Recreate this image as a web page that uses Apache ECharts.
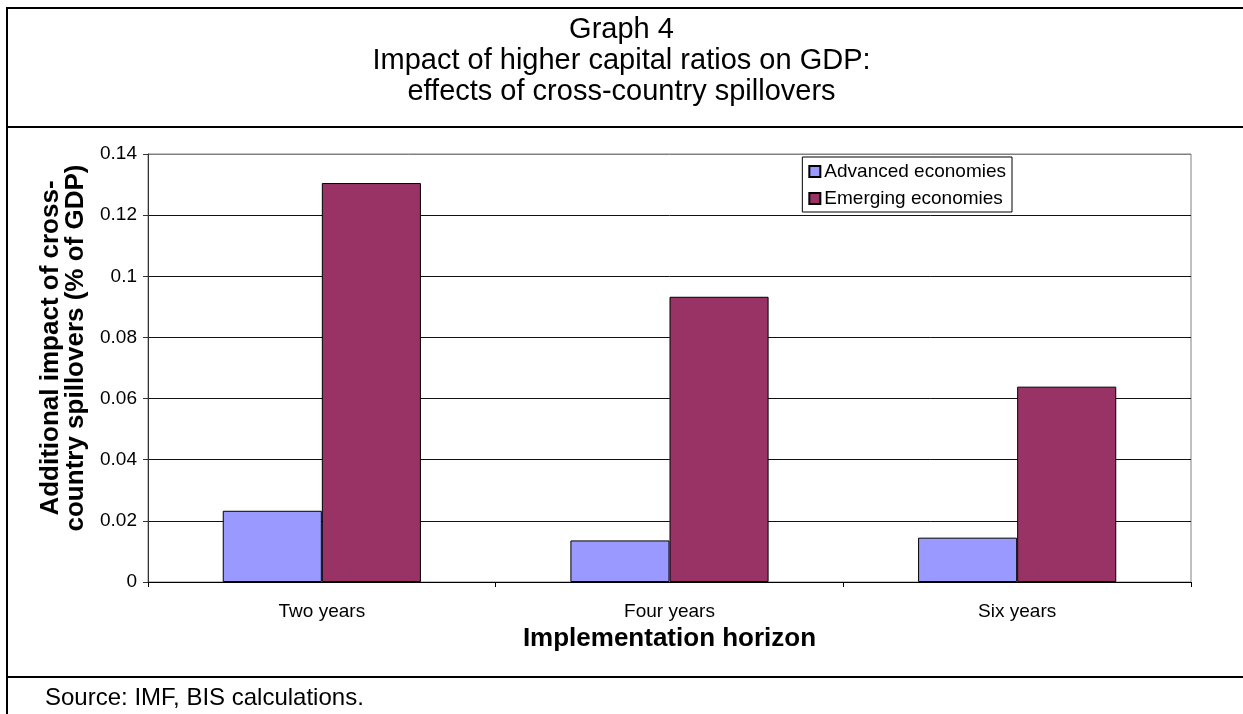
<!DOCTYPE html>
<html>
<head>
<meta charset="utf-8">
<title>Graph 4</title>
<script src="https://cdn.jsdelivr.net/npm/echarts@6/dist/echarts.min.js"></script>
<style>
  html, body { margin: 0; padding: 0; background: #fff; }
  #chart { width: 1243px; height: 714px; }
</style>
</head>
<body>
<div id="chart"></div>
<script>
// Implementation horizons on the x axis
var categories = ['Two years', 'Four years', 'Six years'];
// Additional GDP impact of cross-country spillovers, % of GDP
var advancedEconomies = [0.0233, 0.0136, 0.0145];
var emergingEconomies = [0.1305, 0.0933, 0.0639];
var seriesNames = ['Advanced economies', 'Emerging economies'];

var titleText = 'Graph 4\nImpact of higher capital ratios on GDP:\neffects of cross-country spillovers';
var sourceText = 'Source: IMF, BIS calculations.';
var xAxisName = 'Implementation horizon';
var yAxisName = 'Additional impact of cross-\ncountry spillovers (% of GDP)';

var FONT = '"Liberation Sans", Arial, Helvetica, sans-serif';

var chart = echarts.init(document.getElementById('chart'), null, { renderer: 'canvas' });

// grid lines: black inside, grey along the top edge of the plot
var splitColors = ['#111', '#111', '#111', '#111', '#111', '#111', '#111', '#808080'];

var option = {
  backgroundColor: '#fff',
  animation: false,
  textStyle: { fontFamily: FONT, color: '#000' },
  title: [
    {
      text: titleText,
      left: 'center',
      top: 14,
      padding: 0,
      textStyle: { fontFamily: FONT, fontSize: 29, fontWeight: 'normal', color: '#000', lineHeight: 31, align: 'center' }
    },
    {
      text: sourceText,
      left: 45,
      top: 686,
      padding: 0,
      textStyle: { fontFamily: FONT, fontSize: 24, fontWeight: 'normal', color: '#000', lineHeight: 24 }
    }
  ],
  legend: {
    data: seriesNames,
    orient: 'vertical',
    right: 231,
    top: 157,
    padding: [5, 6, 4, 6],
    itemGap: 8,
    itemWidth: 11,
    itemHeight: 11,
    icon: 'rect',
    borderColor: '#000',
    borderWidth: 1,
    backgroundColor: '#fff',
    textStyle: { fontFamily: FONT, fontSize: 19, color: '#000', padding: [0, 0, 0, -1] }
  },
  grid: {
    left: 148,
    right: 52,
    top: 154,
    bottom: 132,
    show: true,
    borderColor: '#808080',
    borderWidth: 1,
    backgroundColor: '#fff',
    containLabel: false
  },
  xAxis: {
    type: 'category',
    data: categories,
    name: xAxisName,
    nameLocation: 'middle',
    nameGap: 41,
    nameTextStyle: { fontFamily: FONT, fontSize: 26, fontWeight: 'bold', color: '#000' },
    axisLine: { show: true, lineStyle: { color: '#000', width: 1 } },
    axisTick: { show: true, inside: false, length: 5, alignWithLabel: false, lineStyle: { color: '#000' } },
    axisLabel: { fontFamily: FONT, fontSize: 19, color: '#000', margin: 20 },
    splitLine: { show: false }
  },
  yAxis: {
    type: 'value',
    min: 0,
    max: 0.14,
    interval: 0.02,
    name: yAxisName,
    nameLocation: 'middle',
    nameRotate: 90,
    nameGap: 45,
    nameTextStyle: { fontFamily: FONT, fontSize: 26, fontWeight: 'bold', color: '#000', lineHeight: 25, align: 'center', padding: [0, 0, 0, 40] },
    axisLine: { show: true, lineStyle: { color: '#333', width: 1 } },
    axisTick: { show: true, inside: false, length: 5, lineStyle: { color: '#333' } },
    axisLabel: {
      fontFamily: FONT, fontSize: 19, color: '#000', margin: 11,
      formatter: function (v) { return String(Math.round(v * 100) / 100); }
    },
    splitLine: { show: true, lineStyle: { color: splitColors, width: 1 } }
  },
  series: [
    {
      name: seriesNames[0],
      type: 'bar',
      data: advancedEconomies,
      barGap: '0%',
      barCategoryGap: '43%',
      itemStyle: { color: '#9999FF', borderColor: '#000', borderWidth: 1 }
    },
    {
      name: seriesNames[1],
      type: 'bar',
      data: emergingEconomies,
      barGap: '0%',
      barCategoryGap: '43%',
      itemStyle: { color: '#993366', borderColor: '#000', borderWidth: 1 }
    }
  ],
  // page frame: outer left/top rules and the separators around the plot
  graphic: [
    { type: 'rect', shape: { x: 6, y: 7, width: 1237, height: 2 }, style: { fill: '#000' }, silent: true },
    { type: 'rect', shape: { x: 6, y: 7, width: 2, height: 707 }, style: { fill: '#000' }, silent: true },
    { type: 'rect', shape: { x: 6, y: 126, width: 1237, height: 2 }, style: { fill: '#000' }, silent: true },
    { type: 'rect', shape: { x: 6, y: 676, width: 1237, height: 2 }, style: { fill: '#000' }, silent: true }
  ]
};

chart.setOption(option);
</script>
</body>
</html>
